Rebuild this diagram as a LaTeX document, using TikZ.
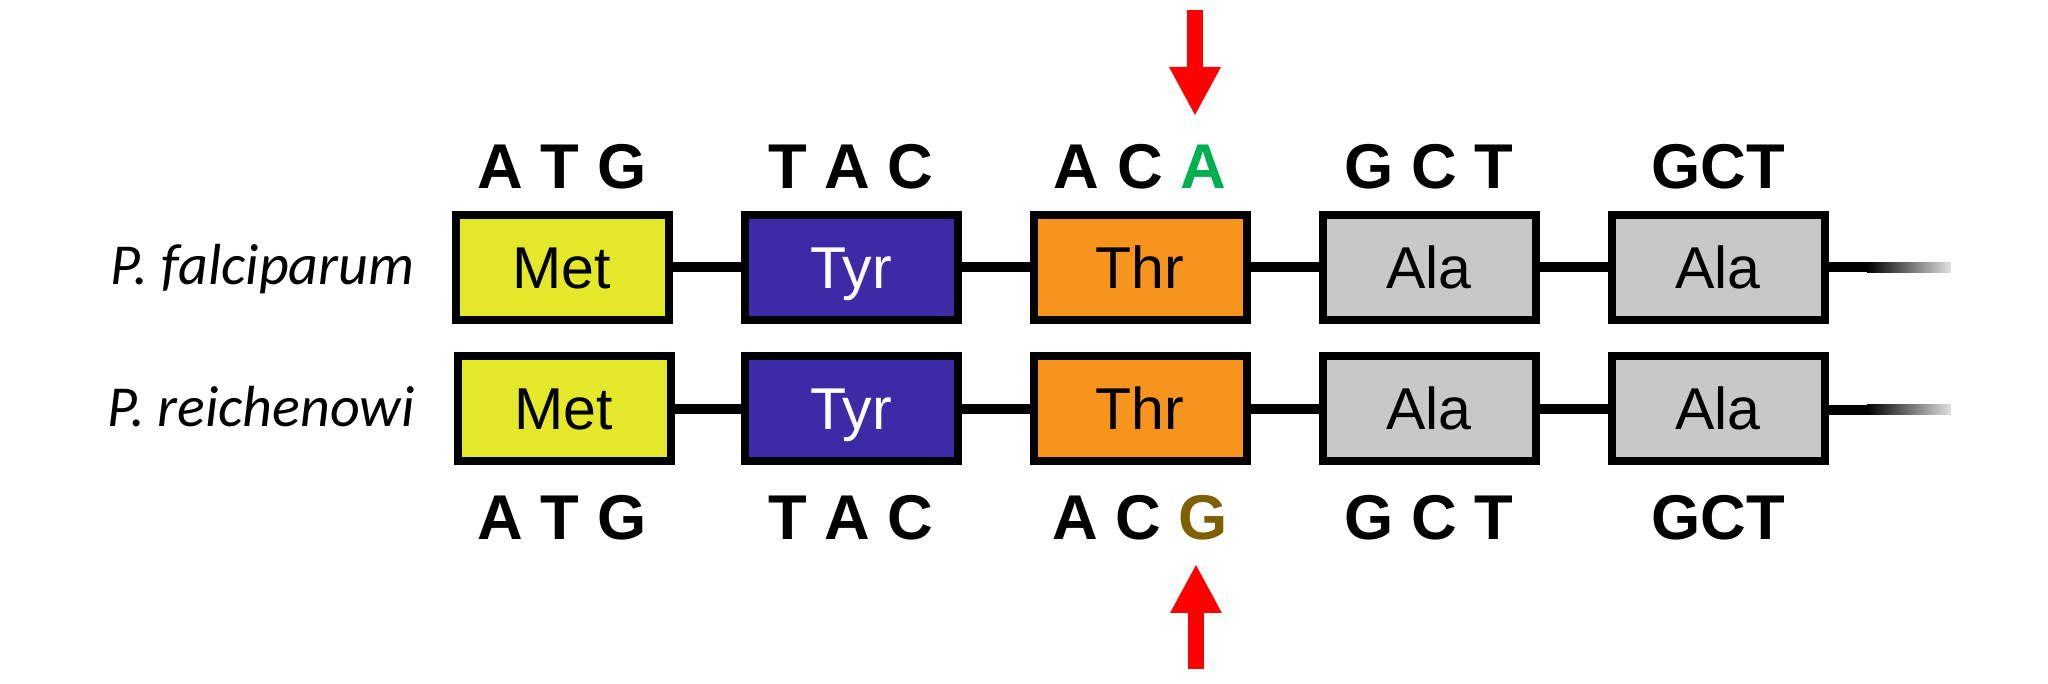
\documentclass[tikz,border=0pt]{standalone}
\usepackage{fontspec}
\setmainfont{Liberation Sans}
\newfontfamily\speciesfont{Carlito}
\usetikzlibrary{arrows.meta}

\definecolor{metyellow}{HTML}{E3E829}
\definecolor{tyrblue}{HTML}{3D2AA6}
\definecolor{throrange}{HTML}{F7941D}
\definecolor{alagray}{HTML}{C8C8C8}
\definecolor{snpgreen}{HTML}{00B050}
\definecolor{snpbrown}{HTML}{7F6000}

\begin{document}
\begin{tikzpicture}
    \tikzstyle{residue} = [draw=black, line width=0.08cm, minimum width=2.13cm, minimum height=1.05cm, inner sep=0pt, text height=0.42cm, text depth=0cm, font=\fontsize{16.8}{18}\selectfont]
    \tikzstyle{codon} = [anchor=base, inner sep=0pt, font=\fontsize{18}{20}\selectfont\bfseries]
    \tikzstyle{species} = [anchor=base east, inner sep=0pt, font=\speciesfont\itshape\fontsize{16.5}{18}\selectfont]
    \tikzstyle{chain} = [line width=0.1cm]
    \tikzstyle{fade} = [left color=black, right color=black!12]
    \tikzstyle{snp} = [draw=red, line width=0.16cm, -{Triangle[width=0.48cm, length=0.49cm]}]

    \useasboundingbox (0, 0) rectangle (20.48, 6.84);

    % P. falciparum
    \node[species] (fName) at (4.15, 3.99) {P. falciparum};
    \node[residue, fill=metyellow] (fMet) at (5.62, 4.165) {Met};
    \node[residue, fill=tyrblue, text=white] (fTyr) at (8.51, 4.165) {Tyr};
    \node[residue, fill=throrange] (fThr) at (11.40, 4.165) {Thr};
    \node[residue, fill=alagray] (fAla) at (14.29, 4.165) {Ala};
    \node[residue, fill=alagray] (fAlaB) at (17.18, 4.165) {Ala};
    \coordinate (fTail) at (18.67, 4.165);
    \draw[chain] (fMet) -- (fTyr);
    \draw[chain] (fTyr) -- (fThr);
    \draw[chain] (fThr) -- (fAla);
    \draw[chain] (fAla) -- (fAlaB);
    \draw[chain] (fAlaB) -- (fTail);
    \shade[fade] (fTail) ++(0, -0.05) rectangle ++(0.84, 0.1);

    \node[codon] (fCodMet) at (5.62, 4.95) {A T G};
    \node[codon] (fCodTyr) at (8.51, 4.95) {T A C};
    \node[codon] (fCodThr) at (11.40, 4.95) {A C \textcolor{snpgreen}{A}};
    \node[codon] (fCodAla) at (14.29, 4.95) {G C T};
    \node[codon] (fCodAlaB) at (17.18, 4.95) {GCT};

    % P. reichenowi
    \node[species] (rName) at (4.15, 2.57) {P. reichenowi};
    \node[residue, fill=metyellow] (rMet) at (5.64, 2.75) {Met};
    \node[residue, fill=tyrblue, text=white] (rTyr) at (8.51, 2.75) {Tyr};
    \node[residue, fill=throrange] (rThr) at (11.40, 2.75) {Thr};
    \node[residue, fill=alagray] (rAla) at (14.29, 2.75) {Ala};
    \node[residue, fill=alagray] (rAlaB) at (17.18, 2.75) {Ala};
    \coordinate (rTail) at (18.67, 2.74);
    \draw[chain] (rMet) -- (rTyr);
    \draw[chain] (rTyr) -- (rThr);
    \draw[chain] (rThr) -- (rAla);
    \draw[chain] (rAla) -- (rAlaB);
    \draw[chain] (rAlaB.east |- rTail) -- (rTail);
    \shade[fade] (rTail) ++(0, -0.05) rectangle ++(0.84, 0.1);

    \node[codon] (rCodMet) at (5.62, 1.44) {A T G};
    \node[codon] (rCodTyr) at (8.51, 1.44) {T A C};
    \node[codon] (rCodThr) at (11.40, 1.44) {A C \textcolor{snpbrown}{G}};
    \node[codon] (rCodAla) at (14.29, 1.44) {G C T};
    \node[codon] (rCodAlaB) at (17.18, 1.44) {GCT};

    % SNP markers
    \coordinate (snpTopStart) at (11.95, 6.74);
    \coordinate (snpTopEnd) at (11.95, 5.68);
    \coordinate (snpBotStart) at (11.96, 0.15);
    \coordinate (snpBotEnd) at (11.96, 1.20);
    \draw[snp] (snpTopStart) -- (snpTopEnd);
    \draw[snp] (snpBotStart) -- (snpBotEnd);
\end{tikzpicture}
\end{document}
